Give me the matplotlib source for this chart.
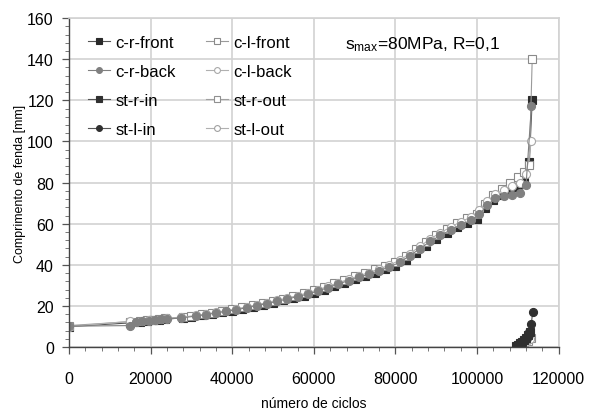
import matplotlib
matplotlib.use('Agg')
import matplotlib.pyplot as plt
from matplotlib.ticker import MultipleLocator

plt.rcParams['font.family'] = ['Liberation Sans', 'DejaVu Sans']
plt.rcParams['mathtext.fontset'] = 'custom'
plt.rcParams['mathtext.rm'] = 'Liberation Sans'

# ciclos / comprimento de fenda (mm) - provetes c (frente e trás)
x_front = [0, 15000, 17500, 19000, 20500, 22000, 23500, 28000, 30000, 32500,
           35000, 37500, 40000, 42500, 45000, 47500, 50000, 52500, 55000, 57500,
           60000, 62500, 65000, 67500, 70000, 72500, 75000, 77500, 80000, 82500,
           85000, 87500, 90000, 92500, 95000, 97500, 100000, 102000, 104000, 106000,
           108000, 110000, 111500, 112800, 113500]
y_c_r_front = [10.0, 11.8, 12.3, 12.7, 13.0, 13.3, 13.6, 14.3, 14.8, 15.5,
               16.2, 17.0, 17.8, 18.7, 19.6, 20.6, 21.6, 22.7, 23.8, 25.0,
               26.4, 28.0, 29.8, 31.4, 33.0, 34.5, 36.2, 37.9, 39.7, 42.6,
               45.8, 49.2, 52.5, 55.5, 58.3, 60.4, 62.5, 67.5, 71.5, 74.0,
               76.0, 78.0, 80.5, 90.0, 120.0]
y_c_l_front = [10.5, 12.4, 12.8, 13.1, 13.4, 13.7, 14.0, 14.7, 15.3, 16.0,
               16.8, 17.6, 18.5, 19.4, 20.4, 21.4, 22.5, 23.6, 24.8, 26.1,
               27.6, 29.2, 31.0, 32.7, 34.4, 36.0, 37.8, 39.6, 41.6, 44.4,
               47.6, 51.0, 54.4, 57.5, 60.3, 62.6, 64.8, 69.5, 74.0, 77.0,
               80.0, 82.5, 85.0, 88.5, 140.0]

x_back = [0, 15000, 16500, 18000, 19500, 21000, 22500, 24000, 27500, 31000,
          33500, 36000, 38500, 41000, 43500, 46000, 48500, 51000, 53500, 56000,
          58500, 61000, 63500, 66000, 68500, 71000, 73500, 76000, 78500, 81000,
          83500, 86000, 88500, 91000, 93500, 96000, 98500, 100500, 102500, 104500,
          106500, 108500, 110500, 112000, 113300]
y_c_r_back = [10.2, 10.5, 12.1, 12.5, 12.9, 13.2, 13.5, 13.7, 14.2, 15.1,
              15.8, 16.6, 17.4, 18.2, 19.2, 20.2, 21.2, 22.3, 23.4, 24.6,
              25.8, 27.3, 29.0, 30.7, 32.4, 33.9, 35.5, 37.2, 39.0, 41.2,
              44.5, 47.9, 51.4, 54.3, 57.0, 59.6, 61.6, 64.5, 69.0, 72.5,
              73.5, 74.0, 75.0, 79.0, 117.0]
y_c_l_back = [10.0, 12.6, 12.3, 12.7, 13.1, 13.4, 13.7, 14.0, 14.5, 15.4,
              16.1, 16.9, 17.8, 18.6, 19.6, 20.6, 21.7, 22.8, 23.9, 25.1,
              26.4, 27.9, 29.6, 31.3, 33.0, 34.6, 36.3, 38.0, 39.9, 42.2,
              45.5, 49.0, 52.6, 55.6, 58.4, 61.0, 63.2, 66.5, 71.0, 74.5,
              76.5, 78.5, 80.0, 84.0, 100.0]

# provetes st (fendas laterais, só no fim do ensaio)
x_st_r_in = [109500, 110000, 110500, 111000, 111500, 112000, 112500, 113000]
y_st_r_in = [0.5, 1.0, 1.8, 2.6, 3.5, 4.6, 5.8, 7.2]
x_st_r_out = [110000, 110800, 111600, 112400, 113200]
y_st_r_out = [0.3, 1.0, 2.0, 3.2, 4.5]
x_st_l_in = [110000, 110800, 111500, 112200, 112800, 113300, 113600]
y_st_l_in = [0.8, 1.8, 3.0, 4.5, 7.5, 11.5, 17.0]
x_st_l_out = [110500, 111300, 112100, 112900]
y_st_l_out = [0.5, 1.4, 2.6, 4.0]

fig = plt.figure(figsize=(5.9, 4.14), dpi=100)
ax = fig.add_axes([0.117, 0.159, 0.83, 0.795])

ms = 5.8
# ordem de desenho: pretos por baixo, cinzentos cheios por cima
series = [
    ('c-r-front', x_front, y_c_r_front, 's', '#2a2a2a', '#2a2a2a', '#555555'),
    ('c-l-front', x_front, y_c_l_front, 's', 'white', '#8a8a8a', '#9a9a9a'),
    ('c-l-back', x_back, y_c_l_back, 'o', 'white', '#a8a8a8', '#b0b0b0'),
    ('c-r-back', x_back, y_c_r_back, 'o', '#808080', '#808080', '#808080'),
    ('st-r-out', x_st_r_out, y_st_r_out, 's', 'white', '#909090', '#a0a0a0'),
    ('st-l-out', x_st_l_out, y_st_l_out, 'o', 'white', '#a0a0a0', '#b0b0b0'),
    ('st-r-in', x_st_r_in, y_st_r_in, 's', '#303030', '#303030', '#555555'),
    ('st-l-in', x_st_l_in, y_st_l_in, 'o', '#303030', '#303030', '#555555'),
]
handles = {}
for label, xs, ys, mk, fc, ec, lc in series:
    h, = ax.plot(xs, ys, '-', color=lc, lw=0.8, marker=mk, ms=ms,
                 mfc=fc, mec=ec, mew=0.8, label=label)
    handles[label] = h

order = ['c-r-front', 'c-r-back', 'st-r-in', 'st-l-in',
         'c-l-front', 'c-l-back', 'st-r-out', 'st-l-out']
leg = ax.legend([handles[k] for k in order], order, ncol=2, frameon=False,
                loc='upper left', bbox_to_anchor=(0.015, 0.985), fontsize=12,
                handlelength=1.3, handletextpad=0.35, columnspacing=1.8,
                labelspacing=0.85, numpoints=1, borderaxespad=0.3)
for h in leg.legend_handles:
    h.set_markersize(4.2)

ax.text(67600, 147.4, r'$\mathrm{s_{max}}$=80MPa, R=0,1', fontsize=12.5,
        va='center', ha='left')

ax.set_xlim(0, 120000)
ax.set_ylim(0, 160)
ax.xaxis.set_major_locator(MultipleLocator(20000))
ax.xaxis.set_minor_locator(MultipleLocator(4000))
ax.yaxis.set_major_locator(MultipleLocator(20))
ax.yaxis.set_minor_locator(MultipleLocator(4))
ax.tick_params(which='major', direction='out', length=5, width=0.9,
               color='#555555', labelsize=11.5)
ax.tick_params(axis='x', which='major', pad=12)
ax.tick_params(axis='y', which='major', pad=6)
ax.tick_params(which='minor', direction='out', length=3, width=0.7,
               color='#777777')

ax.grid(True, which='major', color='#d2d2d2', lw=1.2)
ax.set_axisbelow(True)
for side in ['top', 'right']:
    ax.spines[side].set_color('#d2d2d2')
    ax.spines[side].set_linewidth(1.2)
for side in ['left', 'bottom']:
    ax.spines[side].set_color('#444444')
    ax.spines[side].set_linewidth(1.0)

ax.set_xlabel('número de ciclos', fontsize=10, labelpad=7)
ax.set_ylabel('Comprimento de fenda [mm]', fontsize=9, labelpad=1)

fig.savefig('out.png', dpi=100)
